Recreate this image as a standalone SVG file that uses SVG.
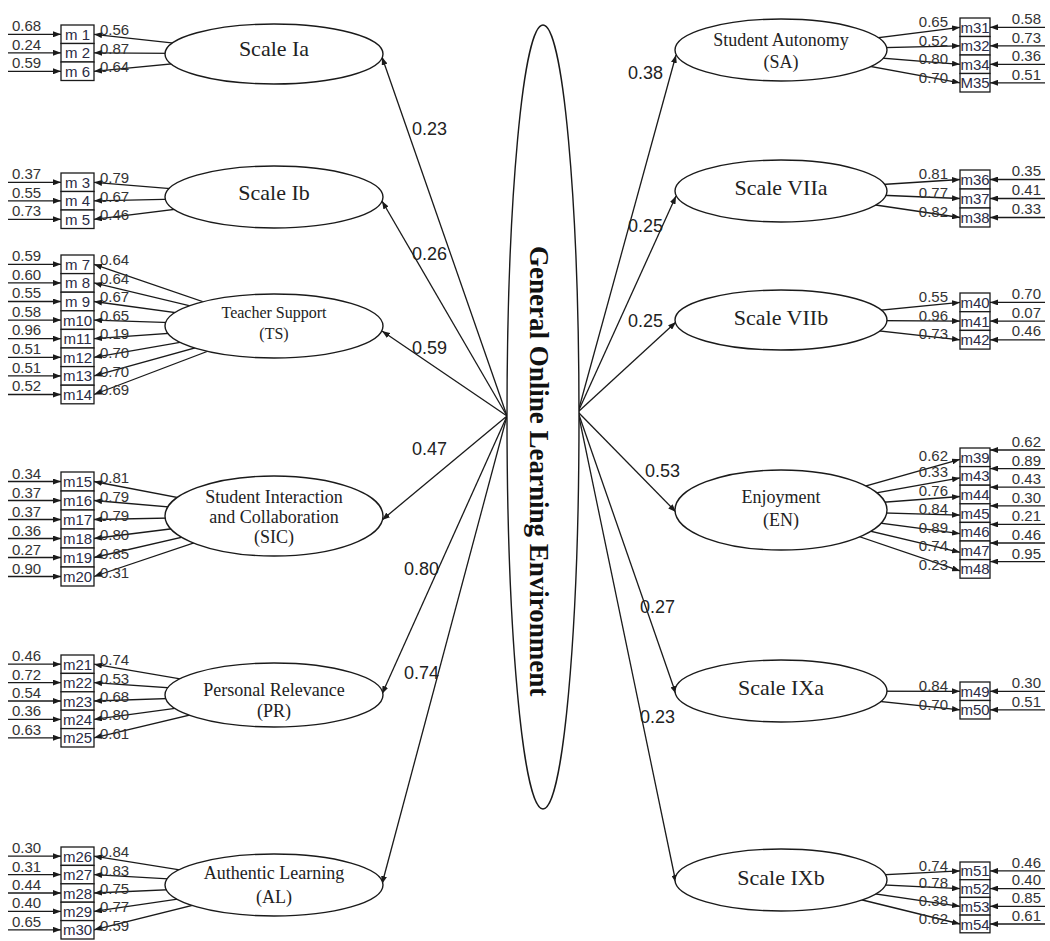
<svg xmlns="http://www.w3.org/2000/svg" width="1050" height="941" viewBox="0 0 1050 941">
<defs>
<marker id="ah" markerUnits="userSpaceOnUse" markerWidth="8" markerHeight="6" refX="8" refY="3" orient="auto">
<path d="M0,0 L8,3 L0,6 z" fill="#1a1a1a"/>
</marker>
<style>
.ln{stroke:#1a1a1a;stroke-width:1.3;fill:none;marker-end:url(#ah)}
.lv{stroke:#1a1a1a;stroke-width:1.4;fill:#fff}
.bx{stroke:#1a1a1a;stroke-width:1.3;fill:#fff}
.num{font-family:"Liberation Sans",Arial,sans-serif;font-size:15px;fill:#333}
.re{text-anchor:end}
.bl{font-family:"Liberation Sans",Arial,sans-serif;font-size:15px;fill:#2b2b45;text-anchor:middle}
.cf{font-family:"Liberation Sans",Arial,sans-serif;font-size:18px;fill:#222}
.fl{font-family:"Liberation Serif","Times New Roman",serif;font-size:22px;fill:#222;text-anchor:middle}
.fs{font-size:18px}
.ft{font-size:16px}
.gt{font-family:"Liberation Serif","Times New Roman",serif;font-weight:bold;font-size:27px;fill:#111}
</style>
</defs>

<g id="connectors">
<!-- general factor to first-order factors -->
<path class="ln" d="M507,416 L382,57"/>
<path class="ln" d="M507,416 L382,201"/>
<path class="ln" d="M507,416 L382,331"/>
<path class="ln" d="M507,416 L382,520"/>
<path class="ln" d="M507,416 L382,694"/>
<path class="ln" d="M507,416 L382,884"/>
<path class="ln" d="M578,412 L676,55"/>
<path class="ln" d="M578,412 L676,196"/>
<path class="ln" d="M578,412 L676,322"/>
<path class="ln" d="M578,412 L676,512"/>
<path class="ln" d="M578,412 L676,694"/>
<path class="ln" d="M578,412 L676,883"/>
<!-- loadings, left side (drawn from factor centre, ellipse covers the inner part) -->
<path class="ln" d="M274,54 L94,34.3"/>
<path class="ln" d="M274,54 L94,52.8"/>
<path class="ln" d="M274,54 L94,71.3"/>
<path class="ln" d="M274,197 L94,182.3"/>
<path class="ln" d="M274,197 L94,200.8"/>
<path class="ln" d="M274,197 L94,219.3"/>
<path class="ln" d="M274,326 L94,264.3"/>
<path class="ln" d="M274,326 L94,282.9"/>
<path class="ln" d="M274,326 L94,301.5"/>
<path class="ln" d="M274,326 L94,320.1"/>
<path class="ln" d="M274,326 L94,338.7"/>
<path class="ln" d="M274,326 L94,357.3"/>
<path class="ln" d="M274,326 L94,375.9"/>
<path class="ln" d="M274,326 L94,394.5"/>
<path class="ln" d="M274,516 L94,481.5"/>
<path class="ln" d="M274,516 L94,500.5"/>
<path class="ln" d="M274,516 L94,519.5"/>
<path class="ln" d="M274,516 L94,538.5"/>
<path class="ln" d="M274,516 L94,557.5"/>
<path class="ln" d="M274,516 L94,576.5"/>
<path class="ln" d="M274,695 L94,664.2"/>
<path class="ln" d="M274,695 L94,682.6"/>
<path class="ln" d="M274,695 L94,701"/>
<path class="ln" d="M274,695 L94,719.4"/>
<path class="ln" d="M274,695 L94,737.8"/>
<path class="ln" d="M274,885 L94,856.2"/>
<path class="ln" d="M274,885 L94,874.6"/>
<path class="ln" d="M274,885 L94,893"/>
<path class="ln" d="M274,885 L94,911.4"/>
<path class="ln" d="M274,885 L94,929.8"/>
<!-- loadings, right side -->
<path class="ln" d="M781,50 L960,27.3"/>
<path class="ln" d="M781,50 L960,45.8"/>
<path class="ln" d="M781,50 L960,64.3"/>
<path class="ln" d="M781,50 L960,82.8"/>
<path class="ln" d="M781,191 L960,179.5"/>
<path class="ln" d="M781,191 L960,198.5"/>
<path class="ln" d="M781,191 L960,217.5"/>
<path class="ln" d="M781,320 L960,302.4"/>
<path class="ln" d="M781,320 L960,321.1"/>
<path class="ln" d="M781,320 L960,339.8"/>
<path class="ln" d="M781,510 L960,459.3"/>
<path class="ln" d="M781,510 L960,477.9"/>
<path class="ln" d="M781,510 L960,496.5"/>
<path class="ln" d="M781,510 L960,515.1"/>
<path class="ln" d="M781,510 L960,533.7"/>
<path class="ln" d="M781,510 L960,552.3"/>
<path class="ln" d="M781,510 L960,570.9"/>
<path class="ln" d="M781,691 L960,691.3"/>
<path class="ln" d="M781,691 L960,709.8"/>
<path class="ln" d="M781,880 L960,870.9"/>
<path class="ln" d="M781,880 L960,888.6"/>
<path class="ln" d="M781,880 L960,906.3"/>
<path class="ln" d="M781,880 L960,924"/>
<!-- error terms, left -->
<path class="ln" d="M8,34.3 H61"/>
<path class="ln" d="M8,52.8 H61"/>
<path class="ln" d="M8,71.3 H61"/>
<path class="ln" d="M8,182.3 H61"/>
<path class="ln" d="M8,200.8 H61"/>
<path class="ln" d="M8,219.3 H61"/>
<path class="ln" d="M8,264.3 H61"/>
<path class="ln" d="M8,282.9 H61"/>
<path class="ln" d="M8,301.5 H61"/>
<path class="ln" d="M8,320.1 H61"/>
<path class="ln" d="M8,338.7 H61"/>
<path class="ln" d="M8,357.3 H61"/>
<path class="ln" d="M8,375.9 H61"/>
<path class="ln" d="M8,394.5 H61"/>
<path class="ln" d="M8,481.5 H61"/>
<path class="ln" d="M8,500.5 H61"/>
<path class="ln" d="M8,519.5 H61"/>
<path class="ln" d="M8,538.5 H61"/>
<path class="ln" d="M8,557.5 H61"/>
<path class="ln" d="M8,576.5 H61"/>
<path class="ln" d="M8,664.2 H61"/>
<path class="ln" d="M8,682.6 H61"/>
<path class="ln" d="M8,701 H61"/>
<path class="ln" d="M8,719.4 H61"/>
<path class="ln" d="M8,737.8 H61"/>
<path class="ln" d="M8,856.2 H61"/>
<path class="ln" d="M8,874.6 H61"/>
<path class="ln" d="M8,893 H61"/>
<path class="ln" d="M8,911.4 H61"/>
<path class="ln" d="M8,929.8 H61"/>
<!-- error terms, right -->
<path class="ln" d="M1045,27.3 H990"/>
<path class="ln" d="M1045,45.8 H990"/>
<path class="ln" d="M1045,64.3 H990"/>
<path class="ln" d="M1045,82.8 H990"/>
<path class="ln" d="M1045,179.5 H990"/>
<path class="ln" d="M1045,198.5 H990"/>
<path class="ln" d="M1045,217.5 H990"/>
<path class="ln" d="M1045,302.4 H990"/>
<path class="ln" d="M1045,321.1 H990"/>
<path class="ln" d="M1045,339.8 H990"/>
<path class="ln" d="M1045,450 H990"/>
<path class="ln" d="M1045,468.6 H990"/>
<path class="ln" d="M1045,487.2 H990"/>
<path class="ln" d="M1045,505.8 H990"/>
<path class="ln" d="M1045,524.4 H990"/>
<path class="ln" d="M1045,543 H990"/>
<path class="ln" d="M1045,561.6 H990"/>
<path class="ln" d="M1045,691.3 H990"/>
<path class="ln" d="M1045,709.8 H990"/>
<path class="ln" d="M1045,870.9 H990"/>
<path class="ln" d="M1045,888.6 H990"/>
<path class="ln" d="M1045,906.3 H990"/>
<path class="ln" d="M1045,924 H990"/>
</g>

<g id="path-coefficients" class="cf">
<text x="412" y="135">0.23</text>
<text x="412" y="260">0.26</text>
<text x="412" y="354">0.59</text>
<text x="412" y="455">0.47</text>
<text x="404" y="575">0.80</text>
<text x="404" y="679">0.74</text>
<text x="628" y="79">0.38</text>
<text x="628" y="232">0.25</text>
<text x="628" y="327">0.25</text>
<text x="645" y="477">0.53</text>
<text x="640" y="613">0.27</text>
<text x="640" y="723">0.23</text>
</g>

<g id="GOLE">
<ellipse class="lv" cx="543" cy="417" rx="36" ry="392"/>
<text class="gt" x="530" y="246" transform="rotate(90 530 246)">General Online Learning Environment</text>
</g>

<g id="F-Ia"><ellipse class="lv" cx="274" cy="54" rx="109" ry="30"/><text class="fl" x="274" y="56">Scale Ia</text></g>
<g id="F-Ib"><ellipse class="lv" cx="274" cy="197" rx="109" ry="31"/><text class="fl" x="274" y="200">Scale Ib</text></g>
<g id="F-TS"><ellipse class="lv" cx="274" cy="326" rx="109" ry="32"/><text class="fl ft" x="274" y="318">Teacher Support</text><text class="fl ft" x="274" y="339">(TS)</text></g>
<g id="F-SIC"><ellipse class="lv" cx="274" cy="516" rx="109" ry="40"/><text class="fl fs" x="274" y="503">Student Interaction</text><text class="fl fs" x="274" y="523">and Collaboration</text><text class="fl fs" x="274" y="543">(SIC)</text></g>
<g id="F-PR"><ellipse class="lv" cx="274" cy="695" rx="109" ry="32"/><text class="fl fs" x="274" y="696">Personal Relevance</text><text class="fl fs" x="274" y="717">(PR)</text></g>
<g id="F-AL"><ellipse class="lv" cx="274" cy="885" rx="109" ry="31"/><text class="fl fs" x="274" y="879">Authentic Learning</text><text class="fl fs" x="274" y="903">(AL)</text></g>

<g id="F-SA"><ellipse class="lv" cx="781" cy="50" rx="106" ry="31"/><text class="fl fs" x="781" y="46">Student Autonomy</text><text class="fl fs" x="781" y="68">(SA)</text></g>
<g id="F-VIIa"><ellipse class="lv" cx="781" cy="191" rx="106" ry="31"/><text class="fl" x="781" y="195">Scale VIIa</text></g>
<g id="F-VIIb"><ellipse class="lv" cx="781" cy="320" rx="106" ry="30"/><text class="fl" x="781" y="325">Scale VIIb</text></g>
<g id="F-EN"><ellipse class="lv" cx="781" cy="510" rx="106" ry="40"/><text class="fl fs" x="781" y="503">Enjoyment</text><text class="fl fs" x="781" y="526">(EN)</text></g>
<g id="F-IXa"><ellipse class="lv" cx="781" cy="691" rx="106" ry="31"/><text class="fl" x="781" y="695">Scale IXa</text></g>
<g id="F-IXb"><ellipse class="lv" cx="781" cy="880" rx="106" ry="31"/><text class="fl" x="781" y="885">Scale IXb</text></g>

<!-- observed items, left column -->
<g id="m1"><rect class="bx" x="61" y="25" width="33" height="18.5"/><text class="bl" x="77.5" y="39.8">m 1</text><text class="num" x="12" y="31">0.68</text><text class="num" x="100" y="35">0.56</text></g>
<g id="m2"><rect class="bx" x="61" y="43.5" width="33" height="18.5"/><text class="bl" x="77.5" y="58.3">m 2</text><text class="num" x="12" y="49.5">0.24</text><text class="num" x="100" y="53.5">0.87</text></g>
<g id="m6"><rect class="bx" x="61" y="62" width="33" height="18.5"/><text class="bl" x="77.5" y="76.8">m 6</text><text class="num" x="12" y="68">0.59</text><text class="num" x="100" y="72">0.64</text></g>

<g id="m3"><rect class="bx" x="61" y="173" width="33" height="18.5"/><text class="bl" x="77.5" y="187.8">m 3</text><text class="num" x="12" y="179">0.37</text><text class="num" x="100" y="183">0.79</text></g>
<g id="m4"><rect class="bx" x="61" y="191.5" width="33" height="18.5"/><text class="bl" x="77.5" y="206.3">m 4</text><text class="num" x="12" y="197.5">0.55</text><text class="num" x="100" y="201.5">0.67</text></g>
<g id="m5"><rect class="bx" x="61" y="210" width="33" height="18.5"/><text class="bl" x="77.5" y="224.8">m 5</text><text class="num" x="12" y="216">0.73</text><text class="num" x="100" y="220">0.46</text></g>

<g id="m7"><rect class="bx" x="61" y="255" width="33" height="18.6"/><text class="bl" x="77.5" y="269.8">m 7</text><text class="num" x="12" y="261">0.59</text><text class="num" x="100" y="265">0.64</text></g>
<g id="m8"><rect class="bx" x="61" y="273.6" width="33" height="18.6"/><text class="bl" x="77.5" y="288.4">m 8</text><text class="num" x="12" y="279.6">0.60</text><text class="num" x="100" y="283.6">0.64</text></g>
<g id="m9"><rect class="bx" x="61" y="292.2" width="33" height="18.6"/><text class="bl" x="77.5" y="307">m 9</text><text class="num" x="12" y="298.2">0.55</text><text class="num" x="100" y="302.2">0.67</text></g>
<g id="m10"><rect class="bx" x="61" y="310.8" width="33" height="18.6"/><text class="bl" x="77.5" y="325.6">m10</text><text class="num" x="12" y="316.8">0.58</text><text class="num" x="100" y="320.8">0.65</text></g>
<g id="m11"><rect class="bx" x="61" y="329.4" width="33" height="18.6"/><text class="bl" x="77.5" y="344.2">m11</text><text class="num" x="12" y="335.4">0.96</text><text class="num" x="100" y="339.4">0.19</text></g>
<g id="m12"><rect class="bx" x="61" y="348" width="33" height="18.6"/><text class="bl" x="77.5" y="362.8">m12</text><text class="num" x="12" y="354">0.51</text><text class="num" x="100" y="358">0.70</text></g>
<g id="m13"><rect class="bx" x="61" y="366.6" width="33" height="18.6"/><text class="bl" x="77.5" y="381.4">m13</text><text class="num" x="12" y="372.6">0.51</text><text class="num" x="100" y="376.6">0.70</text></g>
<g id="m14"><rect class="bx" x="61" y="385.2" width="33" height="18.6"/><text class="bl" x="77.5" y="400">m14</text><text class="num" x="12" y="391.2">0.52</text><text class="num" x="100" y="395.2">0.69</text></g>

<g id="m15"><rect class="bx" x="61" y="472" width="33" height="19"/><text class="bl" x="77.5" y="487">m15</text><text class="num" x="12" y="478.5">0.34</text><text class="num" x="100" y="482.5">0.81</text></g>
<g id="m16"><rect class="bx" x="61" y="491" width="33" height="19"/><text class="bl" x="77.5" y="506">m16</text><text class="num" x="12" y="497.5">0.37</text><text class="num" x="100" y="501.5">0.79</text></g>
<g id="m17"><rect class="bx" x="61" y="510" width="33" height="19"/><text class="bl" x="77.5" y="525">m17</text><text class="num" x="12" y="516.5">0.37</text><text class="num" x="100" y="520.5">0.79</text></g>
<g id="m18"><rect class="bx" x="61" y="529" width="33" height="19"/><text class="bl" x="77.5" y="544">m18</text><text class="num" x="12" y="535.5">0.36</text><text class="num" x="100" y="539.5">0.80</text></g>
<g id="m19"><rect class="bx" x="61" y="548" width="33" height="19"/><text class="bl" x="77.5" y="563">m19</text><text class="num" x="12" y="554.5">0.27</text><text class="num" x="100" y="558.5">0.85</text></g>
<g id="m20"><rect class="bx" x="61" y="567" width="33" height="19"/><text class="bl" x="77.5" y="582">m20</text><text class="num" x="12" y="573.5">0.90</text><text class="num" x="100" y="577.5">0.31</text></g>

<g id="m21"><rect class="bx" x="61" y="655" width="33" height="18.4"/><text class="bl" x="77.5" y="669.7">m21</text><text class="num" x="12" y="661.2">0.46</text><text class="num" x="100" y="665.2">0.74</text></g>
<g id="m22"><rect class="bx" x="61" y="673.4" width="33" height="18.4"/><text class="bl" x="77.5" y="688.1">m22</text><text class="num" x="12" y="679.6">0.72</text><text class="num" x="100" y="683.6">0.53</text></g>
<g id="m23"><rect class="bx" x="61" y="691.8" width="33" height="18.4"/><text class="bl" x="77.5" y="706.5">m23</text><text class="num" x="12" y="698">0.54</text><text class="num" x="100" y="702">0.68</text></g>
<g id="m24"><rect class="bx" x="61" y="710.2" width="33" height="18.4"/><text class="bl" x="77.5" y="724.9">m24</text><text class="num" x="12" y="716.4">0.36</text><text class="num" x="100" y="720.4">0.80</text></g>
<g id="m25"><rect class="bx" x="61" y="728.6" width="33" height="18.4"/><text class="bl" x="77.5" y="743.3">m25</text><text class="num" x="12" y="734.8">0.63</text><text class="num" x="100" y="738.8">0.61</text></g>

<g id="m26"><rect class="bx" x="61" y="847" width="33" height="18.4"/><text class="bl" x="77.5" y="861.7">m26</text><text class="num" x="12" y="853.2">0.30</text><text class="num" x="100" y="857.2">0.84</text></g>
<g id="m27"><rect class="bx" x="61" y="865.4" width="33" height="18.4"/><text class="bl" x="77.5" y="880.1">m27</text><text class="num" x="12" y="871.6">0.31</text><text class="num" x="100" y="875.6">0.83</text></g>
<g id="m28"><rect class="bx" x="61" y="883.8" width="33" height="18.4"/><text class="bl" x="77.5" y="898.5">m28</text><text class="num" x="12" y="890">0.44</text><text class="num" x="100" y="894">0.75</text></g>
<g id="m29"><rect class="bx" x="61" y="902.2" width="33" height="18.4"/><text class="bl" x="77.5" y="916.9">m29</text><text class="num" x="12" y="908.4">0.40</text><text class="num" x="100" y="912.4">0.77</text></g>
<g id="m30"><rect class="bx" x="61" y="920.6" width="33" height="18.4"/><text class="bl" x="77.5" y="935.3">m30</text><text class="num" x="12" y="926.8">0.65</text><text class="num" x="100" y="930.8">0.59</text></g>

<!-- observed items, right column -->
<g id="m31"><rect class="bx" x="960" y="18" width="30" height="18.5"/><text class="bl" x="975" y="32.8">m31</text><text class="num re" x="948" y="27">0.65</text><text class="num re" x="1041" y="24">0.58</text></g>
<g id="m32"><rect class="bx" x="960" y="36.5" width="30" height="18.5"/><text class="bl" x="975" y="51.3">m32</text><text class="num re" x="948" y="45.5">0.52</text><text class="num re" x="1041" y="42.5">0.73</text></g>
<g id="m34"><rect class="bx" x="960" y="55" width="30" height="18.5"/><text class="bl" x="975" y="69.8">m34</text><text class="num re" x="948" y="64">0.80</text><text class="num re" x="1041" y="61">0.36</text></g>
<g id="M35"><rect class="bx" x="960" y="73.5" width="30" height="18.5"/><text class="bl" x="975" y="88.3">M35</text><text class="num re" x="948" y="82.5">0.70</text><text class="num re" x="1041" y="79.5">0.51</text></g>

<g id="m36"><rect class="bx" x="960" y="170" width="30" height="19"/><text class="bl" x="975" y="185">m36</text><text class="num re" x="948" y="179">0.81</text><text class="num re" x="1041" y="176">0.35</text></g>
<g id="m37"><rect class="bx" x="960" y="189" width="30" height="19"/><text class="bl" x="975" y="204">m37</text><text class="num re" x="948" y="198">0.77</text><text class="num re" x="1041" y="195">0.41</text></g>
<g id="m38"><rect class="bx" x="960" y="208" width="30" height="19"/><text class="bl" x="975" y="223">m38</text><text class="num re" x="948" y="217">0.82</text><text class="num re" x="1041" y="214">0.33</text></g>

<g id="m40"><rect class="bx" x="960" y="293" width="30" height="18.7"/><text class="bl" x="975" y="307.9">m40</text><text class="num re" x="948" y="302">0.55</text><text class="num re" x="1041" y="299">0.70</text></g>
<g id="m41"><rect class="bx" x="960" y="311.7" width="30" height="18.7"/><text class="bl" x="975" y="326.6">m41</text><text class="num re" x="948" y="320.7">0.96</text><text class="num re" x="1041" y="317.7">0.07</text></g>
<g id="m42"><rect class="bx" x="960" y="330.4" width="30" height="18.7"/><text class="bl" x="975" y="345.3">m42</text><text class="num re" x="948" y="339.4">0.73</text><text class="num re" x="1041" y="336.4">0.46</text></g>

<g id="m39"><rect class="bx" x="960" y="448" width="30" height="18.6"/><text class="bl" x="975" y="462.8">m39</text><text class="num re" x="948" y="461">0.62</text><text class="num re" x="1041" y="447">0.62</text></g>
<g id="m43"><rect class="bx" x="960" y="466.6" width="30" height="18.6"/><text class="bl" x="975" y="481.4">m43</text><text class="num re" x="948" y="477">0.33</text><text class="num re" x="1041" y="465.6">0.89</text></g>
<g id="m44"><rect class="bx" x="960" y="485.2" width="30" height="18.6"/><text class="bl" x="975" y="500">m44</text><text class="num re" x="948" y="495.5">0.76</text><text class="num re" x="1041" y="484.2">0.43</text></g>
<g id="m45"><rect class="bx" x="960" y="503.8" width="30" height="18.6"/><text class="bl" x="975" y="518.6">m45</text><text class="num re" x="948" y="514">0.84</text><text class="num re" x="1041" y="502.8">0.30</text></g>
<g id="m46"><rect class="bx" x="960" y="522.4" width="30" height="18.6"/><text class="bl" x="975" y="537.2">m46</text><text class="num re" x="948" y="532.5">0.89</text><text class="num re" x="1041" y="521.4">0.21</text></g>
<g id="m47"><rect class="bx" x="960" y="541" width="30" height="18.6"/><text class="bl" x="975" y="555.8">m47</text><text class="num re" x="948" y="551">0.74</text><text class="num re" x="1041" y="540">0.46</text></g>
<g id="m48"><rect class="bx" x="960" y="559.6" width="30" height="18.6"/><text class="bl" x="975" y="574.4">m48</text><text class="num re" x="948" y="569.5">0.23</text><text class="num re" x="1041" y="558.6">0.95</text></g>

<g id="m49"><rect class="bx" x="960" y="682" width="30" height="18.5"/><text class="bl" x="975" y="696.8">m49</text><text class="num re" x="948" y="691">0.84</text><text class="num re" x="1041" y="688">0.30</text></g>
<g id="m50"><rect class="bx" x="960" y="700.5" width="30" height="18.5"/><text class="bl" x="975" y="715.3">m50</text><text class="num re" x="948" y="709.5">0.70</text><text class="num re" x="1041" y="706.5">0.51</text></g>

<g id="m51"><rect class="bx" x="960" y="862" width="30" height="17.7"/><text class="bl" x="975" y="876.4">m51</text><text class="num re" x="948" y="870.5">0.74</text><text class="num re" x="1041" y="867.5">0.46</text></g>
<g id="m52"><rect class="bx" x="960" y="879.7" width="30" height="17.7"/><text class="bl" x="975" y="894.1">m52</text><text class="num re" x="948" y="888.2">0.78</text><text class="num re" x="1041" y="885.2">0.40</text></g>
<g id="m53"><rect class="bx" x="960" y="897.4" width="30" height="17.7"/><text class="bl" x="975" y="911.8">m53</text><text class="num re" x="948" y="905.9">0.38</text><text class="num re" x="1041" y="902.9">0.85</text></g>
<g id="m54"><rect class="bx" x="960" y="915.1" width="30" height="17.7"/><text class="bl" x="975" y="929.5">m54</text><text class="num re" x="948" y="923.6">0.62</text><text class="num re" x="1041" y="920.6">0.61</text></g>
</svg>
